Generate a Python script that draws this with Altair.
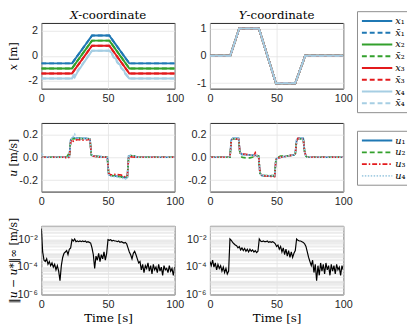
import altair as alt
import pandas as pd

BLUE, GREEN, RED, LBLUE = "#1f78b4", "#33a02c", "#e31a1c", "#a6cee3"

# ---------------- legend entries ----------------
X_NAMES = ["𝑥₁", "𝑥̄₁", "𝑥₂", "𝑥̄₂", "𝑥₃", "𝑥̄₃", "𝑥₄", "𝑥̄₄"]
X_COLORS = [BLUE, BLUE, GREEN, GREEN, RED, RED, LBLUE, LBLUE]
X_DASHES = [[1, 0], [5, 3], [1, 0], [5, 3], [1, 0], [5, 3], [1, 0], [5, 3]]

U_NAMES = ["𝑢₁", "𝑢₂", "𝑢₃", "𝑢₄"]
U_COLORS = [BLUE, GREEN, RED, LBLUE]
U_DASHES = [[1, 0], [5, 3], [5, 2, 1.5, 2], [1.5, 1.5]]

# ---------------- X-coordinate ----------------
X_T = [0, 23, 38, 51, 66, 100]
X1 = [-0.6, -0.6, 1.6, 1.6, -0.6, -0.6]
X2 = [-1.0, -1.0, 1.2, 1.2, -1.0, -1.0]
X3 = [-1.4, -1.4, 0.8, 0.8, -1.4, -1.4]
X4_T = [0, 23, 24, 25, 27, 38, 51, 53, 54, 56, 57, 59, 60, 62, 63, 66, 100]
X4 = [-1.8, -1.8, -1.55, -1.7, -1.3, 0.4, 0.4, 0.2, -0.1, -0.25, -0.55, -0.7, -1.0, -1.15, -1.45, -1.8, -1.8]
XB4 = [-1.8, -1.8, 0.4, 0.4, -1.8, -1.8]

# ---------------- Y-coordinate ----------------
Y_T = [0, 15.2, 22, 36.7, 49.5, 64, 71.4, 100]
Y_REF = [0, 0, 1, 1, -1, -1, 0, 0]

# ---------------- control inputs, x ----------------
UX1_T = [0, 19, 20, 21, 22, 23, 26, 30, 34, 36.5, 37.5, 39, 45, 49.5, 50.5, 52, 56, 60, 63, 64.5, 65.5, 67, 70, 72, 100]
UX1 = [0, 0, 0.005, 0.01, 0.15, 0.165, 0.17, 0.165, 0.165, 0.16, 0.02, 0.01, 0.005, 0.0, -0.15, -0.16, -0.165, -0.17, -0.18, -0.175, 0.01, 0.015, 0.01, 0, 0]
UX2_T = [0, 19, 20, 21, 22, 23, 28, 33, 36.5, 37.5, 39, 45, 49.5, 50.5, 52, 57, 61, 64.5, 65.5, 67, 70, 72, 100]
UX2 = [0, 0, 0.02, 0.005, 0.15, 0.16, 0.165, 0.16, 0.16, 0.02, 0.01, 0.005, 0.0, -0.14, -0.16, -0.165, -0.175, -0.17, 0.01, 0.015, 0.01, 0, 0]
UX3_T = [0, 18, 19, 21, 22, 23, 24, 27, 31, 36.5, 37.5, 39, 45, 49.5, 50.5, 52, 55, 60, 62, 64.5, 65.5, 68, 70, 72, 100]
UX3 = [0, 0, -0.01, 0.0, 0.13, 0.155, 0.14, 0.155, 0.15, 0.155, 0.02, 0.01, 0.0, 0.0, -0.14, -0.155, -0.15, -0.155, -0.17, -0.165, 0.0, 0.005, 0.0, 0, 0]
UX4_T = [0, 0.5, 1.5, 19, 21, 22, 23, 25, 26, 30, 36.5, 37.5, 39, 45, 49.5, 50.5, 52, 58, 63, 64.5, 65.5, 67, 70, 72, 100]
UX4 = [0, 0.04, 0, 0, 0.005, 0.15, 0.165, 0.2, 0.165, 0.165, 0.16, 0.02, 0.01, 0.005, 0.0, -0.15, -0.165, -0.175, -0.19, -0.18, 0.02, 0.015, 0.01, 0, 0]

# ---------------- control inputs, y ----------------
UY1_T = [0, 15, 16, 17, 21.5, 22.5, 24, 30, 35, 36.5, 37.5, 39, 48.5, 49.5, 51, 55, 60, 63, 64, 65, 66, 70, 71, 72, 73, 100]
UY1 = [0, 0, 0.15, 0.165, 0.165, 0.04, 0.025, 0.02, 0.015, 0.01, -0.14, -0.16, -0.165, -0.02, -0.005, 0.005, 0.015, 0.02, 0.03, 0.15, 0.165, 0.165, 0.05, 0.01, 0, 0]
UY2_T = [0, 15, 16, 17, 21.5, 22.5, 24, 27, 30, 35, 36.5, 37.5, 39, 48.5, 49.5, 51, 53, 60, 63, 64, 65, 66, 70, 71, 72, 73, 100]
UY2 = [0, 0, 0.15, 0.16, 0.16, 0.03, 0.0, -0.005, -0.005, 0.01, 0.01, -0.14, -0.16, -0.16, -0.02, 0.0, 0.01, 0.015, 0.02, 0.03, 0.15, 0.16, 0.16, 0.05, 0.01, 0, 0]
UY3_T = [0, 15, 16, 17, 21.5, 22.5, 24, 30, 33, 34, 35, 36.5, 37.5, 39, 48.5, 49.5, 51, 56, 60, 63, 64, 65, 66, 70, 71, 72, 73, 100]
UY3 = [0, 0, 0.14, 0.16, 0.16, 0.04, 0.03, 0.02, 0.015, 0.04, 0.015, 0.01, -0.13, -0.16, -0.17, -0.02, -0.005, 0.005, 0.015, 0.02, 0.03, 0.14, 0.165, 0.16, 0.05, 0.01, 0, 0]
UY4_T = [0, 15, 16, 17, 21.5, 22.5, 24, 30, 35, 36.5, 37.5, 39, 48.5, 49.5, 51, 55, 60, 63, 64, 65, 66, 70, 71, 72, 73, 100]
UY4 = [0, 0, 0.15, 0.165, 0.16, 0.04, 0.02, 0.02, 0.015, 0.01, -0.14, -0.16, -0.16, -0.02, -0.005, 0.005, 0.015, 0.02, 0.03, 0.15, 0.16, 0.16, 0.05, 0.01, 0, 0]

# ---------------- infinity-norm error (log10 of value), t = 0..100 ----------------
E_T = list(range(101))
EX_LOG = [-1.2, -2.9, -3.5, -3.6, -3.4, -3.8, -3.6, -3.9, -3.7, -4.0,
          -3.8, -4.2, -3.9, -4.3, -5.0, -3.9, -3.3, -3.0, -2.9, -2.8,
          -3.1, -2.7, -2.6, -2.0, -2.1, -1.95, -2.15, -2.1, -2.15, -2.1,
          -2.15, -2.1, -2.15, -2.1, -2.2, -2.15, -2.2, -2.25, -2.6, -3.1,
          -4.1, -3.2, -3.5, -3.0, -3.6, -3.1, -3.4, -2.9, -3.5, -3.0,
          -2.0, -2.05, -2.0, -2.1, -2.05, -2.1, -2.1, -2.15, -2.1, -2.2,
          -2.15, -2.2, -2.25, -2.2, -2.3, -2.6, -2.9, -3.1, -3.4, -3.0,
          -2.85, -3.1, -3.4, -3.7, -3.6, -4.2, -3.8, -4.4, -3.9, -4.1,
          -3.7, -4.3, -3.9, -4.5, -3.8, -4.2, -4.0, -4.4, -3.8, -4.3,
          -4.0, -4.6, -3.9, -4.2, -4.1, -4.4, -3.9, -4.3, -4.1, -4.6,
          -4.0]
EY_LOG = [-3.6, -3.9, -3.5, -4.0, -3.7, -4.2, -3.8, -4.1, -3.9, -4.3,
          -4.0, -4.4, -4.1, -4.5, -4.3, -1.95, -2.05, -2.2, -2.3, -2.4,
          -2.45, -2.6, -2.5, -2.75, -2.6, -2.8, -2.65, -2.85, -2.7, -2.9,
          -2.7, -2.85, -2.75, -2.9, -2.8, -2.95, -2.85, -1.95, -2.1, -2.15,
          -2.1, -2.15, -2.15, -2.1, -2.2, -2.15, -2.2, -2.15, -2.2, -2.3,
          -2.5, -2.4, -2.7, -2.5, -2.9, -2.6, -3.1, -2.7, -3.2, -2.8,
          -3.3, -2.9, -3.3, -3.0, -2.8, -1.95, -2.05, -2.1, -2.1, -2.15,
          -2.2, -2.3, -2.5, -2.9, -3.3, -3.6, -3.9, -3.5, -4.4, -3.8,
          -5.0, -3.9, -4.6, -3.7, -4.3, -3.8, -4.5, -3.7, -4.2, -3.9,
          -4.6, -3.8, -4.3, -3.9, -4.5, -3.8, -4.2, -4.0, -4.6, -3.9,
          -4.2]

X_TICKS = [0, 50, 100]
LOG_GRID = [m * 10.0 ** e for e in range(-6, -1) for m in range(1, 10)] + [0.1]


def frame(series):
    rows = []
    for name, ts, vs in series:
        for t, v in zip(ts, vs):
            rows.append({"t": t, "v": v, "s": name})
    return pd.DataFrame(rows)


df_x = frame([
    (X_NAMES[0], X_T, X1), (X_NAMES[1], X_T, X1),
    (X_NAMES[2], X_T, X2), (X_NAMES[3], X_T, X2),
    (X_NAMES[4], X_T, X3), (X_NAMES[5], X_T, X3),
    (X_NAMES[6], X4_T, X4), (X_NAMES[7], X_T, XB4),
])
df_y = frame([(n, Y_T, Y_REF) for n in X_NAMES])
df_ux = frame([(U_NAMES[0], UX1_T, UX1), (U_NAMES[1], UX2_T, UX2),
               (U_NAMES[2], UX3_T, UX3), (U_NAMES[3], UX4_T, UX4)])
df_uy = frame([(U_NAMES[0], UY1_T, UY1), (U_NAMES[1], UY2_T, UY2),
               (U_NAMES[2], UY3_T, UY3), (U_NAMES[3], UY4_T, UY4)])
df_ex = pd.DataFrame({"t": E_T, "v": [10 ** e for e in EX_LOG]})
df_ey = pd.DataFrame({"t": E_T, "v": [10 ** e for e in EY_LOG]})

W = 136
H1, H = 67, 70
LEG1_Y = -12
HYPHEN = "replace(datum.label, '−', '-')"
LOG_LABELS = ("abs(log(datum.value)/LN10+2)<0.01 ? '10⁻²' : "
              "abs(log(datum.value)/LN10+4)<0.01 ? '10⁻⁴' : "
              "abs(log(datum.value)/LN10+6)<0.01 ? '10⁻⁶' : ''")


def xenc(title=None):
    return alt.X("t:Q", scale=alt.Scale(domain=[0, 100], nice=False),
                 axis=alt.Axis(values=X_TICKS, title=title, labelFlush=False, titlePadding=4))


def yaxis(values, title, left, expr=HYPHEN):
    kw = dict(values=values, labelExpr=expr, labelOverlap=False)
    if left:
        kw.update(title=title, minExtent=22, maxExtent=22, titlePadding=1, titleFontSize=11)
    else:
        kw.update(title=None)
    return alt.Axis(**kw)


def legend(ly):
    return alt.Legend(title=None, orient="none", legendX=150, legendY=ly,
                      symbolType="M-1,0H5.2", symbolSize=100, symbolStrokeWidth=2,
                      labelOffset=23, labelFont="DejaVu Serif", labelFontSize=10,
                      labelColor="#000", padding=4, rowPadding=1,
                      strokeColor="#8c8c8c", fillColor="white", cornerRadius=0)


def lines(df, names, colors, dashes, ydom, yticks, ytitle, left, leg, h,
          width_px, xtitle=None, title=None):
    c = alt.Chart(df).mark_line(strokeWidth=width_px, clip=True).encode(
        x=xenc(xtitle),
        y=alt.Y("v:Q", scale=alt.Scale(domain=ydom, nice=False),
                axis=yaxis(yticks, ytitle, left)),
        color=alt.Color("s:N", scale=alt.Scale(domain=names, range=colors), legend=leg),
        strokeDash=alt.StrokeDash("s:N", scale=alt.Scale(domain=names, range=dashes), legend=leg),
        detail="s:N",
    ).properties(width=W, height=h)
    if title:
        c = c.properties(title=title)
    return c


def err(df, left):
    return alt.Chart(df).mark_line(color="black", strokeWidth=1.2, clip=True).encode(
        x=xenc("Time [s]"),
        y=alt.Y("v:Q", scale=alt.Scale(type="log", domain=[1e-6, 1e-1], nice=False),
                axis=yaxis(LOG_GRID, "‖𝑢 − 𝑢*‖∞ [m/s]", left, LOG_LABELS)),
    ).properties(width=W, height=H)


pX = lines(df_x, X_NAMES, X_COLORS, X_DASHES, [-2.6, 2.6], [-2, 0, 2], "𝑥 [m]",
           True, None, H1, 2, title="𝑋-coordinate")
# the legend hangs above this panel, so its title is pulled back down by the same amount
pY = lines(df_y, X_NAMES, X_COLORS, X_DASHES, [-1.2, 1.2], [-1, 0, 1], None,
           False, legend(LEG1_Y), H1, 2,
           title=alt.TitleParams("𝑌-coordinate", offset=1 + LEG1_Y))
pUx = lines(df_ux, U_NAMES, U_COLORS, U_DASHES, [-0.3, 0.3], [-0.2, 0, 0.2], "𝑢 [m/s]",
            True, None, H, 1.7)
pUy = lines(df_uy, U_NAMES, U_COLORS, U_DASHES, [-0.3, 0.3], [-0.2, 0, 0.2], None,
            False, legend(8), H, 1.7)
pEx = err(df_ex, True)
pEy = err(df_ey, False)

chart = alt.concat(
    pX, pY, pUx, pUy, pEx, pEy, columns=2,
    spacing={"row": 35, "column": 36}, bounds="flush", align="each",
).resolve_scale(
    color="independent", strokeDash="independent", x="independent", y="independent"
).properties(
    autosize=alt.AutoSizeParams(type="none"),
    padding={"left": 34, "top": 12, "right": 373, "bottom": 313},
).configure(
    font="Liberation Sans"
).configure_view(
    stroke="#262626", strokeWidth=1
).configure_axis(
    labelFont="Liberation Sans", labelFontSize=11, labelColor="#262626",
    titleFont="DejaVu Serif", titleFontSize=12, titleFontWeight="normal",
    titleColor="#000000", grid=True, gridColor="#e3e3e3", gridWidth=0.8,
    domain=False, ticks=False, labelPadding=4,
).configure_title(
    font="DejaVu Serif", fontSize=12, fontWeight="normal", offset=1, color="#000000"
)

chart.save("out.html", embed_options={"renderer": "svg", "actions": False})
